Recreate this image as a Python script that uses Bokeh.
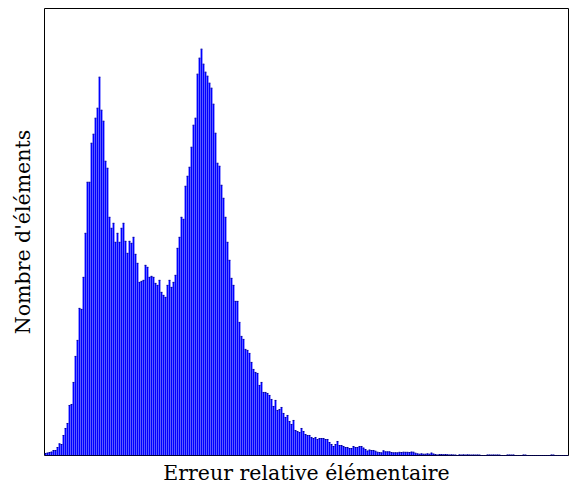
from bokeh.plotting import figure
from bokeh.models import Range1d, FixedTicker
from bokeh.embed import file_html
from bokeh.resources import INLINE

# Histogram counts (one value per bin)
counts = [
    2, 2.5, 3, 3.5, 5, 5, 8, 11.7, 11, 20, 27, 32, 50, 51, 73, 99, 115, 147, 146, 178,
    222, 273, 273, 312, 321, 337, 347, 378, 345, 334, 294, 287, 238, 227, 232, 213, 222, 213, 227, 232,
    214, 202, 214, 212, 218, 201, 192, 173, 174, 175, 190, 188, 178, 179, 178, 172, 170, 175, 163, 160,
    158, 170, 175, 168, 173, 180, 207, 218, 238, 236, 269, 279, 288, 308, 330, 337, 381, 397, 406, 391,
    383, 379, 372, 367, 351, 322, 292, 289, 270, 257, 238, 213, 195, 177, 170, 154, 154, 133, 119, 116,
    106, 105, 102, 93, 86, 83, 82, 70, 73, 63, 63, 62, 60, 56, 49, 55, 45, 46, 48, 42,
    38, 40, 34, 31, 35, 25, 24, 23, 27, 24, 21, 20, 20, 18, 17, 18, 16, 17, 17, 17,
    16, 16, 13, 11, 9, 11, 14, 10, 10, 9, 8, 8, 7, 7, 9, 8, 8, 9, 9, 7.5,
    6, 4.5, 5.5, 5, 5, 4.3, 3.3, 3, 2.7, 4.7, 3.7, 3.7, 3.7, 3, 2.7, 2.8, 2.7, 3.2, 3, 3.3,
    3.2, 3.2, 3, 3.5, 3.3, 2.3, 1.7, 1.3, 1.7, 1.3, 1.3, 1.7, 1.3, 2.5, 1.5, 1, 0.5, 1, 1, 0.8,
    1, 0.8, 0.6, 0.7, 0.6, 0.5, 0, 0.7, 0.5, 0.7, 0.5, 0.7, 0.6, 0.5, 0.6, 0.5, 0.6, 0.5, 0, 0,
    0, 0.6, 0.6, 0.5, 0.6, 0.5, 0.6, 0.5, 0, 0, 0, 0.6, 0.6, 0.5, 0.6, 0, 0, 0, 0, 0.6,
    0.5, 0, 0, 0, 0, 0, 0, 0, 0, 0, 0, 0, 0, 0.6, 0.5, 0, 0, 0, 0, 0,
    0, 0,
]
n_bins = len(counts)
bin_centers = [i + 0.5 for i in range(n_bins)]
bin_left = [i + 0.05 for i in range(n_bins)]
bin_right = [i + 0.95 for i in range(n_bins)]

x_label = "Erreur relative élémentaire"
y_label = "Nombre d'éléments"

p = figure(width=569, height=487, output_backend="svg", toolbar_location=None,
           x_range=Range1d(0, n_bins), y_range=Range1d(0, max(counts) * 1.1),
           min_border_left=44, min_border_right=1, min_border_top=8, min_border_bottom=32)

# bar bodies
p.vbar(x=bin_centers, top=counts, bottom=0, width=0.9,
       fill_color="#0000ff", line_color=None)
# dark outline on bar tops
p.segment(x0=bin_left, x1=bin_right, y0=counts, y1=counts,
          line_color="#00009a", line_width=1)

p.grid.visible = False
p.outline_line_color = "black"
p.outline_line_width = 1

for ax, lbl in ((p.xaxis, x_label), (p.yaxis, y_label)):
    ax.ticker = FixedTicker(ticks=[])
    ax.axis_line_color = None
    ax.major_tick_line_color = None
    ax.minor_tick_line_color = None
    ax.axis_label = lbl
    ax.axis_label_text_font = "DejaVu Serif"
    ax.axis_label_text_font_size = "20.5px"
    ax.axis_label_text_font_style = "normal"
    ax.axis_label_text_color = "black"

p.xaxis.axis_label_standoff = 5
p.yaxis.axis_label_standoff = 10

open("out.html", "w").write(file_html(p, INLINE))
